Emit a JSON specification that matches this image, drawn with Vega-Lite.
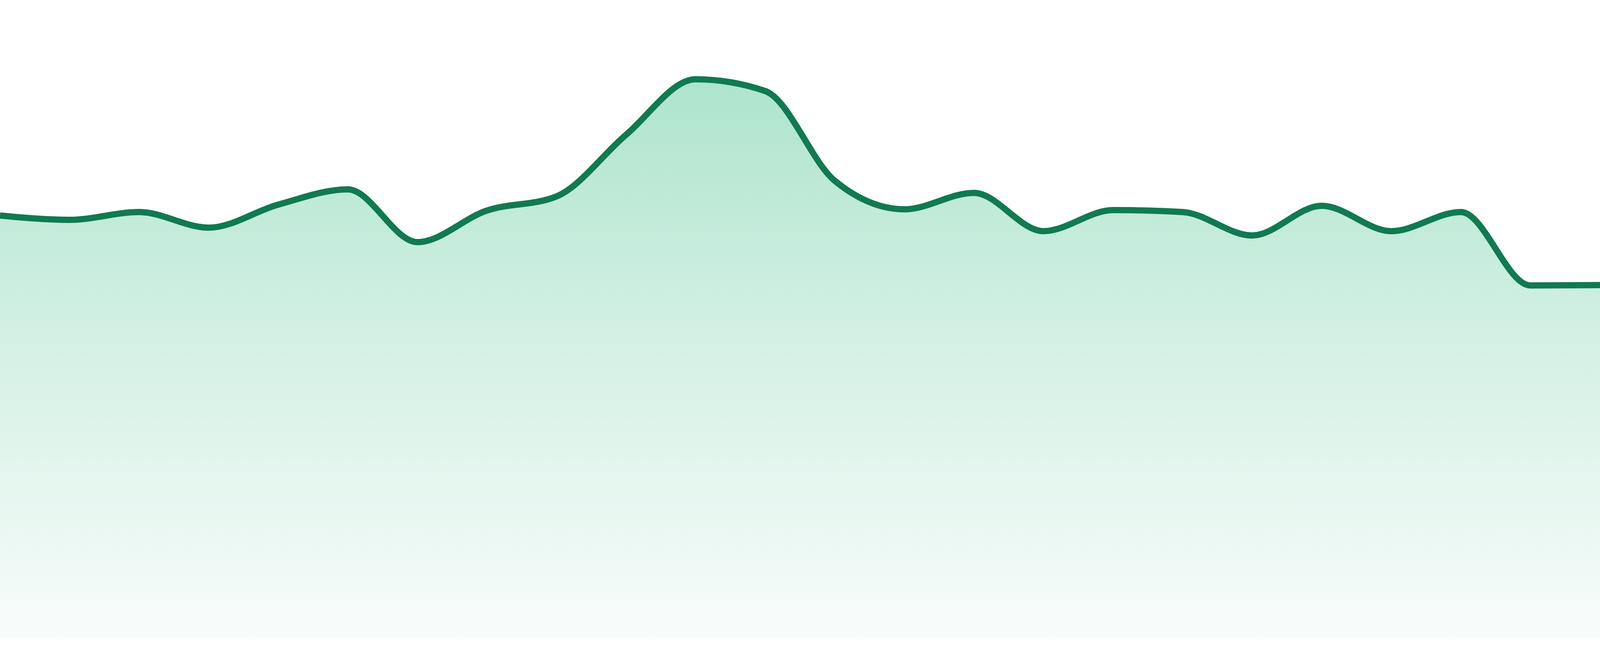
{
  "$schema": "https://vega.github.io/schema/vega-lite/v6.json",
  "autosize": {"type": "fit", "contains": "padding"},
  "width": "container",
  "height": 1680,
  "padding": 0,
  "background": "#ffffff",
  "config": {"view": {"stroke": null}},
  "data": {
    "values": [
      {"i": 0, "v": 66.18},
      {"i": 1, "v": 65.50},
      {"i": 2, "v": 66.73},
      {"i": 3, "v": 64.28},
      {"i": 4, "v": 67.89},
      {"i": 5, "v": 70.28},
      {"i": 6, "v": 62.01},
      {"i": 7, "v": 66.97},
      {"i": 8, "v": 69.18},
      {"i": 9, "v": 78.86},
      {"i": 10, "v": 87.56},
      {"i": 11, "v": 85.72},
      {"i": 12, "v": 71.63},
      {"i": 13, "v": 67.16},
      {"i": 14, "v": 69.73},
      {"i": 15, "v": 63.73},
      {"i": 16, "v": 67.03},
      {"i": 17, "v": 66.73},
      {"i": 18, "v": 63.05},
      {"i": 19, "v": 67.71},
      {"i": 20, "v": 63.73},
      {"i": 21, "v": 66.73},
      {"i": 22, "v": 55.21},
      {"i": 23, "v": 55.27}
    ]
  },
  "encoding": {
    "x": {"field": "i", "type": "quantitative", "scale": {"domain": [0, 23], "nice": false, "zero": false}, "axis": null},
    "y": {"field": "v", "type": "quantitative", "scale": {"domain": [-2.94, 100], "nice": false, "zero": false}, "axis": null}
  },
  "layer": [
    {
      "mark": {
        "type": "area",
        "interpolate": "monotone",
        "clip": true,
        "color": {
          "gradient": "linear",
          "x1": 0, "y1": 0, "x2": 0, "y2": 1,
          "stops": [
            {"offset": 0, "color": "#aee4cd"},
            {"offset": 0.5, "color": "#d6f1e6"},
            {"offset": 1, "color": "#f8fcfa"}
          ]
        }
      },
      "encoding": {"y2": {"datum": 0}}
    },
    {
      "mark": {"type": "line", "interpolate": "monotone", "clip": true, "color": "#107a50", "strokeWidth": 16}
    }
  ]
}
